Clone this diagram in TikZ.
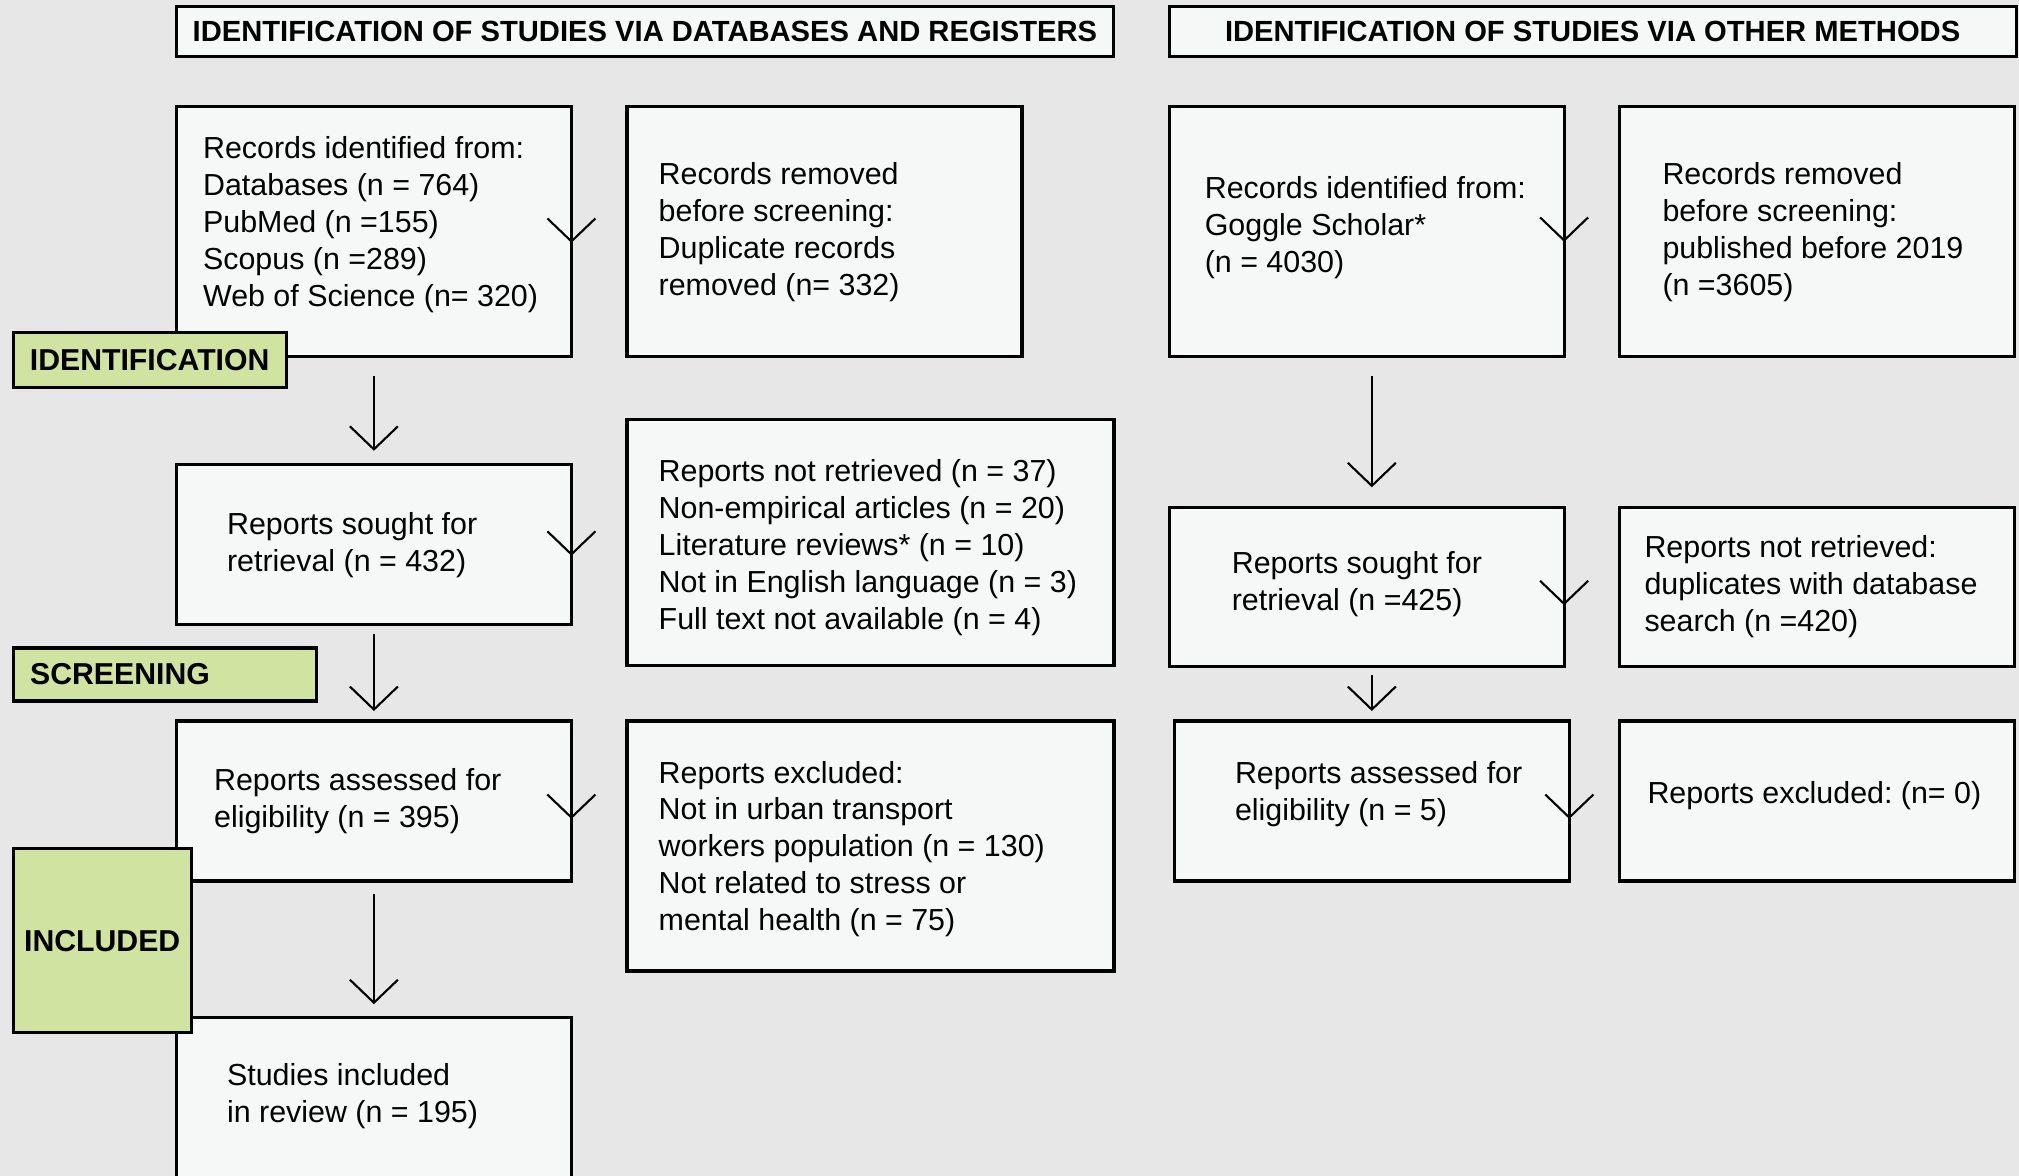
\documentclass[tikz,border=0pt]{standalone}
\usepackage{fontspec}
\setmainfont{Liberation Sans}
\usetikzlibrary{arrows.meta}
\definecolor{gray1}{HTML}{E6E7E6}
\definecolor{gray0}{HTML}{F6F8F7}
\definecolor{green2}{HTML}{D0E3A0}

\begin{document}
\begin{tikzpicture}[
  box/.style={draw, fill=gray0, line width=0.9pt, anchor=north west, inner sep=0pt, outer sep=0pt},
  txt/.style={anchor=west, align=left, inner sep=0pt, font=\frenchspacing\fontsize{8.65}{10.5}\selectfont},
  head/.style={box, font=\bfseries\fontsize{8.3}{10}\selectfont, minimum height=0.5cm},
  stage/.style={draw, fill=green2, line width=0.9pt, anchor=north west, inner sep=0pt, font=\bfseries\fontsize{8.6}{10}\selectfont},
  arr/.style={line width=0.6pt, -{Straight Barb[length=0.23cm, width=0.48cm]}}]
\fill[gray1] (0,0) rectangle (20.19,-11.76);
\useasboundingbox (0,0) rectangle (20.19,-11.76);
\node[head, minimum width=9.37cm] (hdb) at (1.764,-0.064) {IDENTIFICATION OF STUDIES VIA DATABASES AND REGISTERS};
\node[head, minimum width=8.47cm] (hot) at (11.691,-0.064) {IDENTIFICATION OF STUDIES VIA OTHER METHODS};
\node[box, minimum width=3.95cm, minimum height=2.5cm,
  label={[txt, xshift=0.26cm, yshift=0.07cm]west:{Records identified from:\\Databases (n = 764)\\PubMed (n =155)\\Scopus (n =289)\\Web of Science (n= 320)}}] (recdb) at (1.764,-1.069) {};
\node[box, minimum width=3.95cm, minimum height=2.5cm,
  label={[txt, xshift=0.31cm]west:{Records removed\\before screening:\\Duplicate records\\removed (n= 332)}}] (remdb) at (6.27,-1.069) {};
\node[box, minimum width=3.95cm, minimum height=2.5cm,
  label={[txt, xshift=0.35cm, yshift=0.04cm]west:{Records identified from:\\Goggle Scholar*\\(n = 4030)}}] (recot) at (11.691,-1.069) {};
\node[box, minimum width=3.95cm, minimum height=2.5cm,
  label={[txt, xshift=0.42cm]west:{Records removed\\before screening:\\published before 2019\\(n =3605)}}] (remot) at (16.198,-1.069) {};
\node[box, minimum width=3.95cm, minimum height=1.6cm,
  label={[txt, xshift=0.5cm]west:{Reports sought for\\retrieval (n = 432)}}] (sodb) at (1.764,-4.648) {};
\node[box, minimum width=4.87cm, minimum height=2.46cm,
  label={[txt, xshift=0.31cm, yshift=-0.05cm]west:{Reports not retrieved (n = 37)\\Non-empirical articles (n = 20)\\Literature reviews* (n = 10)\\Not in English language (n = 3)\\Full text not available (n = 4)}}] (nrdb) at (6.27,-4.198) {};
\node[box, minimum width=3.95cm, minimum height=1.59cm,
  label={[txt, xshift=0.62cm, yshift=0.03cm]west:{Reports sought for\\retrieval (n =425)}}] (soot) at (11.691,-5.073) {};
\node[box, minimum width=3.95cm, minimum height=1.59cm,
  label={[txt, xshift=0.24cm]west:{Reports not retrieved:\\duplicates with database\\search (n =420)}}] (nrot) at (16.198,-5.073) {};
\node[box, minimum width=3.95cm, minimum height=1.6cm,
  label={[txt, xshift=0.37cm]west:{Reports assessed for\\eligibility (n = 395)}}] (asdb) at (1.764,-7.21) {};
\node[box, minimum width=4.87cm, minimum height=2.5cm,
  label={[txt, xshift=0.31cm, yshift=-0.03cm]west:{Reports excluded:\\Not in urban transport\\workers population (n = 130)\\Not related to stress or\\mental health (n = 75)}}] (exdb) at (6.27,-7.21) {};
\node[box, minimum width=3.95cm, minimum height=1.6cm,
  label={[txt, xshift=0.6cm, yshift=0.07cm]west:{Reports assessed for\\eligibility (n = 5)}}] (asot) at (11.743,-7.21) {};
\node[box, minimum width=3.95cm, minimum height=1.6cm,
  label={[txt, xshift=0.27cm, yshift=0.05cm]west:{Reports excluded: (n= 0)}}] (exot) at (16.198,-7.21) {};
\node[box, minimum width=3.95cm, minimum height=1.65cm,
  label={[txt, xshift=0.5cm, yshift=0.04cm]west:{Studies included\\in review (n = 195)}}] (incl) at (1.764,-10.172) {};
\draw[arr, shorten <=0.19cm, shorten >=0.14cm] (recdb) -- (sodb);
\draw[arr, shorten <=0.09cm, shorten >=0.1cm] (sodb) -- (asdb);
\draw[arr, shorten <=0.13cm, shorten >=0.13cm] (asdb) -- (incl);
\draw[arr, shorten <=0.19cm, shorten >=0.2cm] (recot.south -| asot.north) -- (soot.north -| asot.north);
\draw[arr, shorten <=0.09cm, shorten >=0.1cm] (asot.north |- soot.south) -- (asot.north);
\draw[arr] ([yshift=-1.13cm]recdb.north east) -- ([yshift=-1.36cm]recdb.north east);
\draw[arr] ([yshift=-1.12cm]recot.north east) -- ([yshift=-1.35cm]recot.north east);
\draw[arr] ([yshift=-0.68cm]sodb.north east) -- ([yshift=-0.91cm]sodb.north east);
\draw[arr] ([yshift=-0.75cm]soot.north east) -- ([yshift=-0.98cm]soot.north east);
\draw[arr] ([yshift=-0.75cm]asdb.north east) -- ([yshift=-0.98cm]asdb.north east);
\draw[arr] ([yshift=-0.75cm]asot.north east) -- ([yshift=-0.98cm]asot.north east);
\node[stage, minimum width=2.73cm, minimum height=0.55cm] (sid) at (0.116,-3.31) {IDENTIFICATION};
\node[stage, text width=2.69cm, inner xsep=0.17cm, align=left, minimum height=0.53cm] (sscr) at (0.116,-6.464) {SCREENING};
\node[stage, minimum width=1.78cm, minimum height=1.84cm] (sinc) at (0.116,-8.472) {INCLUDED};
\end{tikzpicture}
\end{document}
